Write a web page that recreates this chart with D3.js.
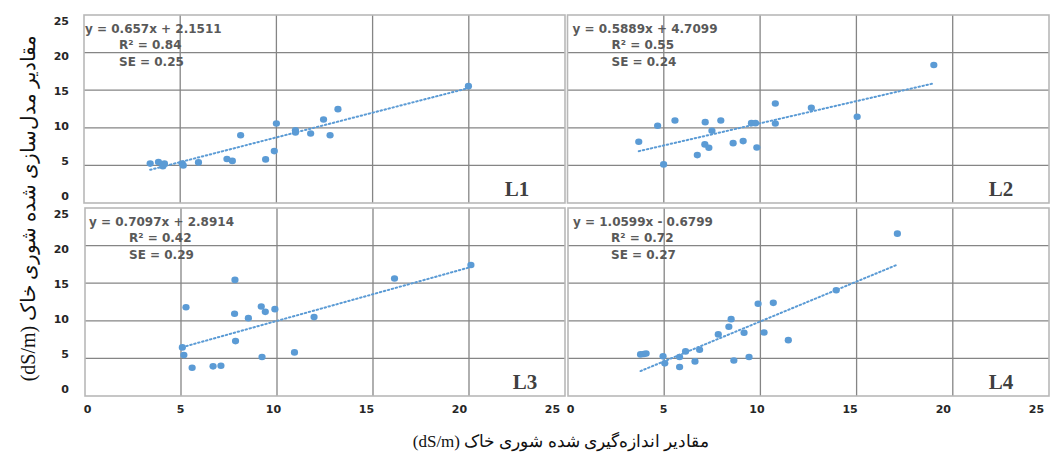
<!DOCTYPE html>
<html>
<head>
<meta charset="utf-8">
<script src="https://cdn.jsdelivr.net/npm/d3@7"></script>
<style>
  body { margin: 0; background: #fff; }
  svg { display: block; }
  .tick text { font-family: "DejaVu Sans", sans-serif; font-weight: bold; font-size: 11px; fill: #262626; }
  .fa { direction: rtl; unicode-bidi: embed; }
</style>
</head>
<body>
<svg width="1051" height="455"></svg>
<script>
// values
var xTicks = [0, 5, 10, 15, 20, 25];
var yTicks = [0, 5, 10, 15, 20, 25];
var panelNames = ["L1", "L2", "L3", "L4"];

var l1Measured = [3.44, 3.87, 4.18, 4.1, 5.1, 5.16, 5.95, 7.43, 7.71, 8.14, 9.44, 9.89, 10.0, 10.99, 10.99, 11.78, 12.45, 12.79, 13.2, 19.98];
var l1Modelled = [5.24, 5.46, 5.24, 4.9, 5.24, 5.0, 5.4, 5.86, 5.6, 9.0, 5.8, 6.9, 10.57, 9.68, 9.37, 9.24, 11.1, 9.0, 12.48, 15.54];

var l2Measured = [3.7, 4.68, 4.99, 5.58, 6.74, 7.15, 7.13, 7.34, 7.5, 7.96, 8.6, 9.12, 9.55, 9.76, 9.83, 10.79, 10.79, 12.66, 15.04, 19.02];
var l2Modelled = [8.14, 10.27, 5.13, 10.97, 6.37, 10.75, 7.79, 7.35, 9.6, 10.97, 7.96, 8.23, 10.62, 10.62, 7.39, 13.23, 10.58, 12.65, 11.46, 18.36];

var l3Measured = [5.07, 5.15, 5.26, 5.58, 6.67, 7.08, 7.81, 7.79, 7.84, 8.51, 9.18, 9.22, 9.39, 9.89, 10.91, 11.93, 16.12, 20.1];
var l3Modelled = [6.46, 5.44, 11.81, 3.76, 3.94, 4.03, 15.44, 10.93, 7.3, 10.35, 11.9, 5.18, 11.19, 11.55, 5.8, 10.49, 15.62, 17.43];

var l4Measured = [3.77, 3.94, 4.06, 4.94, 5.03, 5.8, 5.8, 6.11, 6.6, 6.84, 7.81, 8.36, 8.48, 8.62, 9.15, 9.41, 9.88, 10.19, 10.67, 11.45, 13.94, 17.12];
var l4Modelled = [5.53, 5.58, 5.66, 5.27, 4.34, 5.18, 3.85, 5.93, 4.6, 6.15, 8.19, 9.2, 10.22, 4.73, 8.41, 5.18, 12.26, 8.45, 12.39, 7.43, 14.07, 21.59];

var slopes = ["0.657", "0.5889", "0.7097", "1.0599"];
var intercepts = ["2.1511", "4.7099", "2.8914", "-0.6799"];
var r2Values = ["0.84", "0.55", "0.42", "0.72"];
var seValues = ["0.25", "0.24", "0.29", "0.27"];

var measured = [l1Measured, l2Measured, l3Measured, l4Measured];
var modelled = [l1Modelled, l2Modelled, l3Modelled, l4Modelled];

var svg = d3.select("svg");
var blue = "#5b9bd5";

// layout of the four plot frames
var frames = [
  {x0: 84, x1: 565, y0: 15, y1: 203, eqDx: 1, rDx: 35, lDx: 48, yLabels: true, xLabels: false},
  {x0: 567.5, x1: 1049, y0: 15, y1: 203, eqDx: 5, rDx: 44, lDx: 48, yLabels: false, xLabels: false},
  {x0: 85, x1: 565, y0: 208, y1: 396, eqDx: 4, rDx: 44, lDx: 40, yLabels: true, xLabels: true},
  {x0: 568, x1: 1049, y0: 208, y1: 396, eqDx: 5, rDx: 43, lDx: 48, yLabels: false, xLabels: true}
];

frames.forEach(function(f, i) {
  var x = d3.scaleLinear().domain([0, 25]).range([f.x0, f.x1]);
  var y = d3.scaleLinear().domain([0, 25]).range([f.y1, f.y0]);
  var g = svg.append("g");

  // grid
  g.selectAll(".vg").data(xTicks.slice(1, -1)).enter().append("line")
    .attr("x1", function(d) { return x(d); }).attr("x2", function(d) { return x(d); })
    .attr("y1", f.y0).attr("y2", f.y1)
    .attr("stroke", "#858585").attr("stroke-width", 1.3);
  g.selectAll(".hg").data(yTicks.slice(1, -1)).enter().append("line")
    .attr("y1", function(d) { return y(d); }).attr("y2", function(d) { return y(d); })
    .attr("x1", f.x0).attr("x2", f.x1)
    .attr("stroke", "#858585").attr("stroke-width", 1.3);

  g.append("rect")
    .attr("x", f.x0).attr("y", f.y0)
    .attr("width", f.x1 - f.x0).attr("height", f.y1 - f.y0)
    .attr("fill", "none").attr("stroke", "#b8b8b8").attr("stroke-width", 1.6);

  // tick labels (printed slightly off the grid in the original)
  if (f.yLabels) {
    var yl = d3.scaleLinear().domain([0, 25]).range([f.y1 - 7, f.y0 + 6]);
    svg.append("g").attr("transform", "translate(69,0)")
      .call(d3.axisLeft(yl).tickValues(yTicks).tickSize(0).tickPadding(0))
      .call(function(a) { a.select(".domain").remove(); });
  }
  if (f.xLabels) {
    var xl = d3.scaleLinear().domain([0, 25]).range([f.x0 + 2, f.x1 - 13]);
    svg.append("g").attr("transform", "translate(0,405)")
      .call(d3.axisBottom(xl).tickValues(xTicks).tickSize(0).tickPadding(0))
      .call(function(a) { a.select(".domain").remove(); });
  }

  // trend line
  var xs = measured[i];
  var a = +slopes[i], b = +intercepts[i];
  var ext = d3.extent(xs);
  g.append("line")
    .attr("x1", x(ext[0])).attr("y1", y(a * ext[0] + b))
    .attr("x2", x(ext[1])).attr("y2", y(a * ext[1] + b))
    .attr("stroke", blue).attr("stroke-width", 2)
    .attr("stroke-dasharray", "1.5,2.6").attr("stroke-linecap", "round");

  // points
  g.selectAll(".pt").data(xs).enter().append("ellipse")
    .attr("cx", function(d) { return x(d); })
    .attr("cy", function(d, j) { return y(modelled[i][j]); })
    .attr("rx", 3.6).attr("ry", 3.3)
    .attr("fill", blue);

  // equation
  var sign = b < 0 ? " - " : " + ";
  var lines = [
    {t: "y = " + slopes[i] + "x" + sign + intercepts[i].replace("-", ""), dx: f.eqDx, dy: 14},
    {t: "R\u00b2 = " + r2Values[i], dx: f.rDx, dy: 30},
    {t: "SE = " + seValues[i], dx: f.rDx, dy: 47}
  ];
  g.selectAll(".eq").data(lines).enter().append("text")
    .attr("x", function(d) { return f.x0 + d.dx; })
    .attr("y", function(d) { return f.y0 + d.dy; })
    .attr("dominant-baseline", "central")
    .attr("font-family", "DejaVu Sans, sans-serif")
    .attr("font-weight", "bold").attr("font-size", 12)
    .attr("fill", "#595959")
    .text(function(d) { return d.t; });

  g.append("text")
    .attr("x", f.x1 - f.lDx).attr("y", f.y1 - 14)
    .attr("text-anchor", "middle").attr("dominant-baseline", "central")
    .attr("font-family", "Liberation Serif, serif")
    .attr("font-weight", "bold").attr("font-size", 21)
    .attr("fill", "#404040")
    .text(panelNames[i]);
});

// axis titles
svg.append("text")
  .attr("class", "fa")
  .attr("x", 561).attr("y", 441)
  .attr("text-anchor", "middle").attr("dominant-baseline", "central")
  .attr("font-family", "Liberation Serif, DejaVu Serif, serif")
  .attr("font-size", 17).attr("fill", "#111")
  .text("مقادیر اندازه‌گیری شده شوری خاک (dS/m)");

svg.append("text")
  .attr("class", "fa")
  .attr("transform", "translate(28,208) rotate(-90)")
  .attr("text-anchor", "middle").attr("dominant-baseline", "central")
  .attr("font-family", "Liberation Serif, DejaVu Serif, serif")
  .attr("font-size", 20).attr("fill", "#111")
  .text("مقادیر مدل‌سازی شده شوری خاک (dS/m)");
</script>
</body>
</html>
